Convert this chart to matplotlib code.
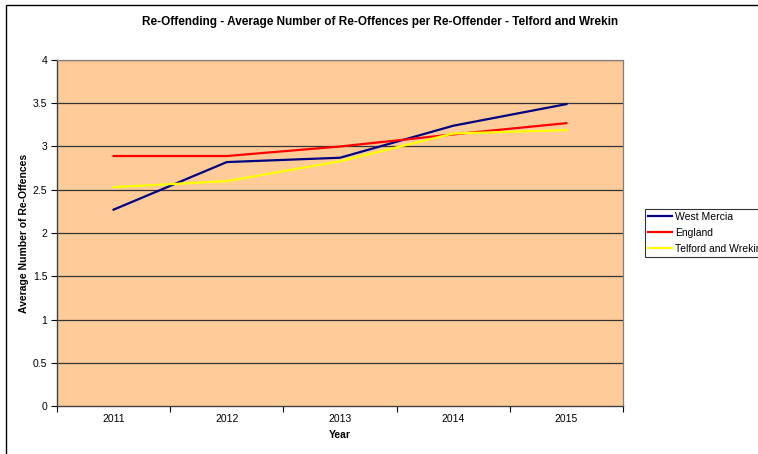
import matplotlib.pyplot as plt
from matplotlib.patches import Rectangle

plt.rcParams['font.family'] = ['Liberation Sans', 'DejaVu Sans']

# datos
years = ["2011", "2012", "2013", "2014", "2015"]
west_mercia = [2.27, 2.82, 2.87, 3.24, 3.49]
england = [2.89, 2.89, 3.00, 3.14, 3.27]
telford = [2.53, 2.60, 2.83, 3.15, 3.19]
y_ticks = [0, 0.5, 1, 1.5, 2, 2.5, 3, 3.5, 4]
y_labels = ["0", "0.5", "1", "1.5", "2", "2.5", "3", "3.5", "4"]

fig = plt.figure(figsize=(7.58, 4.54), dpi=100)

# borde exterior del grafico (cortado a la derecha y abajo)
fig.patches.append(Rectangle((5.5 / 758, -0.05), 1.2, 1 - 4.5 / 454 + 0.05,
                             transform=fig.transFigure, fill=False,
                             edgecolor="black", linewidth=1))

ax = fig.add_axes([57 / 758, 48 / 454, 566 / 758, 346 / 454])
ax.set_facecolor("#FFCC99")

x = list(range(len(years)))
ax.plot(x, west_mercia, color="#000080", linewidth=1.6, label="West Mercia", zorder=3)
ax.plot(x, england, color="#FF0000", linewidth=1.6, label="England", zorder=3)
ax.plot(x, telford, color="#FFFF00", linewidth=1.6, label="Telford and Wrekin", zorder=3)

ax.set_xlim(-0.5, len(years) - 0.5)
ax.set_ylim(0, 4)

# eje de categorias: marcas entre categorias, etiquetas en el centro
ax.set_xticks([i - 0.5 for i in range(len(years) + 1)])
ax.set_xticklabels([])
ax.set_xticks(x, minor=True)
ax.set_xticklabels(years, minor=True, fontsize=7.5)
ax.tick_params(axis="x", which="minor", length=0, pad=6)
ax.tick_params(axis="x", which="major", length=4, width=0.8, direction="out", color="black")

ax.set_yticks(y_ticks)
ax.set_yticklabels(y_labels, fontsize=7.5)
ax.tick_params(axis="y", length=4, width=0.8, direction="out", color="black", pad=3)

for t in y_ticks[1:]:
    ax.axhline(t, color="#333333", linewidth=0.9, zorder=1)

for side in ["top", "right"]:
    ax.spines[side].set_color("#808080")
    ax.spines[side].set_linewidth(0.9)
for side in ["left", "bottom"]:
    ax.spines[side].set_color("#404040")
    ax.spines[side].set_linewidth(1.0)

ax.set_xlabel("Year", fontsize=7.5, fontweight="bold", labelpad=4)
fig.text(24 / 758, 1 - 233 / 454, "Average Number of Re-Offences",
         rotation=90, ha="center", va="center", fontsize=7.5, fontweight="bold")

fig.text(380 / 758, 1 - 22 / 454,
         "Re-Offending - Average Number of Re-Offences per Re-Offender - Telford and Wrekin",
         ha="center", va="center", fontsize=8.5, fontweight="bold")

leg = fig.legend(loc="upper left", bbox_to_anchor=(645 / 758, 1 - 209 / 454),
                 fontsize=7.5, frameon=True, fancybox=False, handlelength=2.3,
                 handletextpad=0.25, borderpad=0.3, labelspacing=0.55,
                 borderaxespad=0)
leg.get_frame().set_edgecolor("black")
leg.get_frame().set_linewidth(0.8)

fig.savefig("out.png", dpi=100)
